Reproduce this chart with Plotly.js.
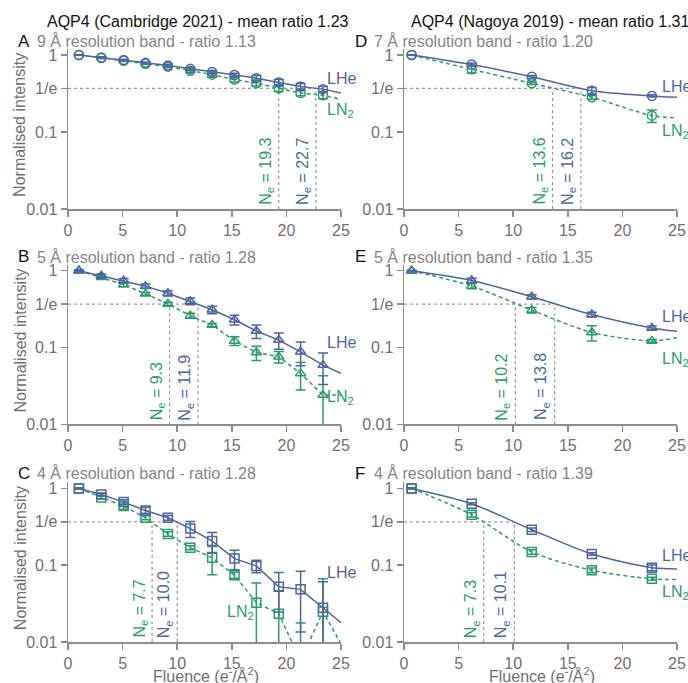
<!DOCTYPE html>
<html><head><meta charset="utf-8">
<script src="https://cdn.plot.ly/plotly-3.0.1.min.js"></script>
<style>html,body{margin:0;padding:0;background:#fff;}#chart{width:688px;height:683px;}</style>
</head><body><div id="chart"></div>
<script>
// ---------- data ----------
const xCambridge = [1.0, 3.05, 5.1, 7.1, 9.15, 11.2, 13.2, 15.25, 17.25, 19.3, 21.3, 23.35];
const xNagoya = [0.7, 6.2, 11.7, 17.2, 22.7];
const xTail = 25;

const lheA = [1.0, 0.93, 0.86, 0.79, 0.73, 0.66, 0.60, 0.55, 0.50, 0.44, 0.39, 0.36];
const lheAErr = [0.01, 0.02, 0.02, 0.02, 0.025, 0.025, 0.03, 0.03, 0.04, 0.04, 0.035, 0.03];
const ln2A = [1.0, 0.91, 0.84, 0.77, 0.705, 0.625, 0.555, 0.48, 0.43, 0.37, 0.32, 0.30];
const ln2AErr = [0.01, 0.02, 0.02, 0.02, 0.025, 0.03, 0.04, 0.035, 0.035, 0.035, 0.025, 0.03];

const lheB = [1.0, 0.86, 0.74, 0.63, 0.51, 0.40, 0.31, 0.23, 0.164, 0.125, 0.088, 0.059];
const lheBErr = [0.02, 0.05, 0.05, 0.04, 0.04, 0.04, 0.034, 0.034, 0.033, 0.03, 0.03, 0.026];
const ln2B = [1.0, 0.82, 0.66, 0.50, 0.37, 0.26, 0.196, 0.122, 0.086, 0.076, 0.046, 0.024];
const ln2BErr = [0.02, 0.03, 0.04, 0.02, 0.02, 0.02, 0.01, 0.016, 0.018, 0.013, 0.018, 0.019];

const lheC = [1.0, 0.835, 0.664, 0.517, 0.415, 0.30, 0.206, 0.122, 0.098, 0.0525, 0.0485, 0.028];
const lheCErr = [0.02, 0.03, 0.05, 0.05, 0.03, 0.07, 0.06, 0.035, 0.018, 0.028, 0.035, 0.033];
const ln2C = [1.0, 0.764, 0.589, 0.415, 0.255, 0.169, 0.125, 0.074, 0.0325, 0.0234, 0.0057, 0.0248];
const ln2CErr = [0.02, 0.03, 0.055, 0.025, 0.017, 0.01, 0.05, 0.007, 0.026, 0.023, 0.012, 0.042];

const lheD = [1.0, 0.75, 0.52, 0.344, 0.294];
const lheDErr = [0.01, 0.035, 0.02, 0.035, 0.01];
const ln2D = [1.0, 0.65, 0.428, 0.282, 0.163];
const ln2DErr = [0.01, 0.065, 0.015, 0.015, 0.03];

const lheE = [1.0, 0.748, 0.458, 0.269, 0.180];
const lheEErr = [0.01, 0.05, 0.03, 0.02, 0.01];
const ln2E = [1.0, 0.631, 0.307, 0.157, 0.122];
const ln2EErr = [0.01, 0.05, 0.025, 0.035, 0.005];

const lheF = [1.0, 0.632, 0.29, 0.14, 0.093];
const lheFErr = [0.02, 0.02, 0.015, 0.005, 0.008];
const ln2F = [1.0, 0.455, 0.149, 0.086, 0.0665];
const ln2FErr = [0.01, 0.03, 0.01, 0.006, 0.003];

// curve values at fluence 25 (end of drawn curves)
const lheTail = [0.32, 0.046, 0.0178, 0.282, 0.163, 0.0896];
const ln2Tail = [0.265, 0.024, 0.0095, 0.152, 0.134, 0.065];

const neLN2 = [19.3, 9.3, 7.7, 13.6, 10.2, 7.3];
const neLHe = [22.7, 11.9, 10.0, 16.2, 13.8, 10.1];

const panelLetters = ['A', 'B', 'C', 'D', 'E', 'F'];
const panelSubtitles = ['9 Å resolution band - ratio 1.13', '5 Å resolution band - ratio 1.28',
  '4 Å resolution band - ratio 1.28', '7 Å resolution band - ratio 1.20',
  '5 Å resolution band - ratio 1.35', '4 Å resolution band - ratio 1.39'];
const columnTitles = ['AQP4 (Cambridge 2021) - mean ratio 1.23', 'AQP4 (Nagoya 2019) - mean ratio 1.31'];
const xTicks = [0, 5, 10, 15, 20, 25];
const yTickVals = [0.01, 0.1, Math.exp(-1), 1];
const yTickText = ['0.01', '0.1', '1/e', '1'];
const yTitle = 'Normalised intensity';
const xTitle = 'Fluence (e<sup>-</sup>/Å<sup>2</sup>)';

// ---------- styling ----------
const W = 688, H = 683;
const BLUE = '#52649e', GREEN = '#2c9a6e', GREY = '#8c8c8c', TXT = '#707070', SUB = '#858585';
const FONT = 'Liberation Sans, Arial, Helvetica, sans-serif';
const symbols = ['circle-open', 'triangle-up-open', 'square-open', 'circle-open', 'triangle-up-open', 'square-open'];

const panels = [
  {x: xCambridge, lhe: lheA, lheE: lheAErr, ln2: ln2A, ln2E: ln2AErr},
  {x: xCambridge, lhe: lheB, lheE: lheBErr, ln2: ln2B, ln2E: ln2BErr},
  {x: xCambridge, lhe: lheC, lheE: lheCErr, ln2: ln2C, ln2E: ln2CErr},
  {x: xNagoya, lhe: lheD, lheE: lheDErr, ln2: ln2D, ln2E: ln2DErr},
  {x: xNagoya, lhe: lheE, lheE: lheEErr, ln2: ln2E, ln2E: ln2EErr},
  {x: xNagoya, lhe: lheF, lheE: lheFErr, ln2: ln2F, ln2E: ln2FErr},
];

// pixel geometry
const colX = [[68, 341], [404, 677]];
const rowY = [[48.8, 209], [264.6, 424.3], [482.3, 642]]; // top, bottom pixels
const letterY = [41.5, 256.5, 473];
const labelPos = [ // [x data, log10 y] for LHe and LN2 labels
  {lhe: [23.5, -0.31], ln2: [23.5, -0.72]},
  {lhe: [23.5, -0.93], ln2: [23.5, -1.65]},
  {lhe: [23.5, -1.09], ln2: [14.4, -1.62]},
  {lhe: [23.45, -0.41], ln2: [23.45, -1.0]},
  {lhe: [23.45, -0.60], ln2: [23.45, -1.155]},
  {lhe: [23.45, -0.875], ln2: [23.45, -1.36]},
];

const traces = [], annotations = [];
const layout = {
  width: W, height: H, margin: {l: 0, r: 0, t: 0, b: 0},
  paper_bgcolor: '#fff', plot_bgcolor: '#fff', showlegend: false,
  font: {family: FONT, size: 16, color: TXT},
};

panels.forEach((p, i) => {
  const col = i < 3 ? 0 : 1, row = i % 3;
  const n = i + 1;
  const xa = 'x' + (n === 1 ? '' : n), ya = 'y' + (n === 1 ? '' : n);
  const xkey = 'xaxis' + (n === 1 ? '' : n), ykey = 'yaxis' + (n === 1 ? '' : n);
  const xd = [colX[col][0] / W, colX[col][1] / W];
  const yd = [1 - rowY[row][1] / H, 1 - rowY[row][0] / H];
  layout[xkey] = {
    domain: xd, anchor: ya, range: [0, 25], tickvals: xTicks, ticks: 'outside', ticklen: 6,
    tickwidth: 1.5, tickcolor: GREY, showline: true, linecolor: GREY, linewidth: 1.5,
    showgrid: false, zeroline: false, tickfont: {size: 16, color: TXT, family: FONT}, fixedrange: true,
  };
  layout[ykey] = {
    domain: yd, anchor: xa, type: 'log', range: [-2, 0.08], tickvals: yTickVals, ticktext: yTickText,
    ticks: 'outside', ticklen: 6, tickwidth: 1.5, tickcolor: GREY, showline: true, linecolor: GREY,
    linewidth: 1.5, showgrid: false, zeroline: false, tickfont: {size: 16, color: TXT, family: FONT},
    fixedrange: true,
  };
  const shape = col === 1 ? 'spline' : 'linear';
  const dash = '4px,3px';
  // 1/e guide lines
  const neMax = Math.max(neLN2[i], neLHe[i]);
  traces.push({x: [0, neMax], y: [Math.exp(-1), Math.exp(-1)], xaxis: xa, yaxis: ya, mode: 'lines',
    line: {color: '#999', width: 1.2, dash: 'dot'}, hoverinfo: 'skip'});
  [neLN2[i], neLHe[i]].forEach(ne => {
    traces.push({x: [ne, ne], y: [0.01, Math.exp(-1)], xaxis: xa, yaxis: ya, mode: 'lines',
      line: {color: '#999', width: 1.2, dash: 'dot'}, hoverinfo: 'skip'});
  });
  // curves
  traces.push({x: p.x.concat([xTail]), y: p.ln2.concat([ln2Tail[i]]), xaxis: xa, yaxis: ya, mode: 'lines',
    line: {color: GREEN, width: 1.5, dash: dash, shape: shape, smoothing: 0.8}});
  traces.push({x: p.x.concat([xTail]), y: p.lhe.concat([lheTail[i]]), xaxis: xa, yaxis: ya, mode: 'lines',
    line: {color: BLUE, width: 1.5, shape: shape, smoothing: 0.8}});
  // markers with error bars
  traces.push({x: p.x, y: p.ln2, xaxis: xa, yaxis: ya, mode: 'markers',
    marker: {symbol: symbols[i], size: 9, color: GREEN, line: {width: 1.5, color: GREEN}},
    error_y: {type: 'data', array: p.ln2E, visible: true, color: GREEN, thickness: 1.5, width: 5}});
  traces.push({x: p.x, y: p.lhe, xaxis: xa, yaxis: ya, mode: 'markers',
    marker: {symbol: symbols[i], size: 9, color: BLUE, line: {width: 1.5, color: BLUE}},
    error_y: {type: 'data', array: p.lheE, visible: true, color: BLUE, thickness: 1.5, width: 5}});

  // Ne labels
  [[neLN2[i], GREEN], [neLHe[i], BLUE]].forEach(([ne, c]) => {
    annotations.push({xref: xa, yref: ya, x: ne, y: -2, xanchor: 'right', yanchor: 'bottom',
      xshift: -1, yshift: 2, textangle: -90, showarrow: false,
      text: 'N<sub>e</sub> = ' + ne.toFixed(1), font: {size: 16, color: c, family: FONT}});
  });
  // series labels
  annotations.push({xref: xa, yref: ya, x: labelPos[i].lhe[0], y: labelPos[i].lhe[1], xanchor: 'left',
    yanchor: 'middle', showarrow: false, text: 'LHe', font: {size: 16, color: BLUE, family: FONT}});
  annotations.push({xref: xa, yref: ya, x: labelPos[i].ln2[0], y: labelPos[i].ln2[1], xanchor: 'left',
    yanchor: 'middle', showarrow: false, text: 'LN<sub>2</sub>', font: {size: 16, color: GREEN, family: FONT}});
  // letter + subtitle
  const lx = col === 0 ? 16 : 353, sx = col === 0 ? 35 : 372;
  annotations.push({xref: 'paper', yref: 'paper', x: lx / W, y: 1 - letterY[row] / H, xanchor: 'left',
    yanchor: 'middle', showarrow: false, text: panelLetters[i], font: {size: 17, color: '#111', family: FONT}});
  annotations.push({xref: 'paper', yref: 'paper', x: sx / W, y: 1 - letterY[row] / H, xanchor: 'left',
    yanchor: 'middle', showarrow: false, text: panelSubtitles[i], font: {size: 16, color: SUB, family: FONT}});
  // y title for left column
  if (col === 0) {
    annotations.push({xref: 'paper', yref: 'paper', x: 20 / W, y: 1 - ((rowY[row][0] + rowY[row][1]) / 2 - 4) / H,
      xanchor: 'center', yanchor: 'middle', textangle: -90, showarrow: false, text: yTitle,
      font: {size: 16, color: TXT, family: FONT}});
  }
  if (row === 2) {
    annotations.push({xref: 'paper', yref: 'paper', x: (colX[col][0] + colX[col][1]) / 2 / W + 0.002,
      y: 1 - 675 / H, xanchor: 'center', yanchor: 'middle', showarrow: false, text: xTitle,
      font: {size: 16, color: TXT, family: FONT}});
  }
});

// column titles
annotations.push({xref: 'paper', yref: 'paper', x: 198 / W, y: 1 - 21 / H, xanchor: 'center', yanchor: 'middle',
  showarrow: false, text: columnTitles[0], font: {size: 16, color: '#111', family: FONT}});
annotations.push({xref: 'paper', yref: 'paper', x: 550 / W, y: 1 - 21 / H, xanchor: 'center', yanchor: 'middle',
  showarrow: false, text: columnTitles[1], font: {size: 16, color: '#111', family: FONT}});

layout.annotations = annotations;
Plotly.newPlot('chart', traces, layout, {staticPlot: true, displayModeBar: false});
</script></body></html>
